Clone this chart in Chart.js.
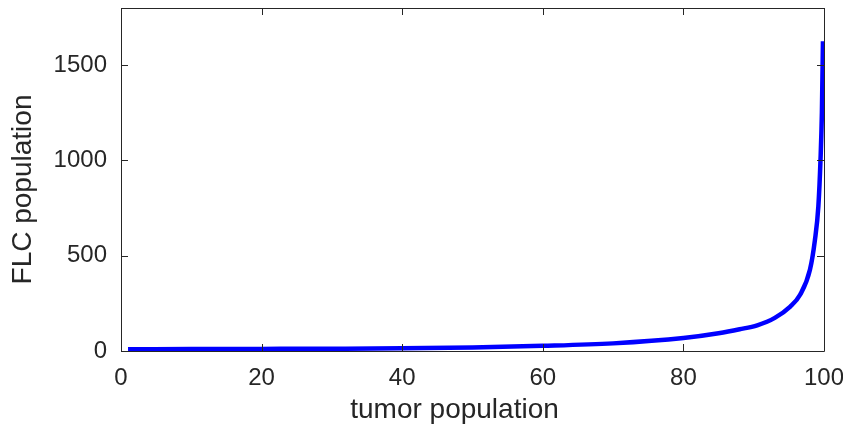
<!DOCTYPE html>
<html>
<head>
<meta charset="utf-8">
<script src="https://cdn.jsdelivr.net/npm/chart.js@4"></script>
<style>
html,body{margin:0;padding:0;background:#fff;}
#wrap{width:843px;height:430px;position:relative;}
</style>
</head>
<body>
<div id="wrap"><canvas id="c" width="843" height="430"></canvas></div>
<script>
const tumorPopulation = [1, 10, 20, 30, 40, 50, 60, 70, 80, 85, 88, 90.5, 93, 95.2, 96.6, 98.0, 98.7, 99.2, 99.5, 99.7, 99.85];
const flcPopulation   = [9, 10, 11, 12, 14, 19, 27, 40, 68, 93, 114, 135, 174, 233, 295, 426, 580, 760, 1000, 1250, 1625];
const xTickValues = [0, 20, 40, 60, 80, 100];
const yTickValues = [0, 500, 1000, 1500];
const xTitle = 'tumor population';
const yTitle = 'FLC population';

const textColor = '#262626';
const axisColor = '#262626';
const fontFamily = '"Liberation Sans", Arial, Helvetica, sans-serif';

const points = tumorPopulation.map((x, i) => ({x: x, y: flcPopulation[i]}));

const boxTicks = {
  id: 'boxTicks',
  afterDraw(chart) {
    const {ctx, chartArea: a, scales} = chart;
    const xs = scales.x, ys = scales.y;
    const len = 7;
    ctx.save();
    ctx.strokeStyle = axisColor;
    ctx.lineWidth = 1;
    ctx.beginPath();
    ctx.rect(Math.round(a.left) + 0.5, Math.round(a.top) + 0.5,
             Math.round(a.right - a.left), Math.round(a.bottom - a.top));
    ctx.stroke();
    ctx.beginPath();
    xTickValues.forEach(v => {
      const px = Math.round(xs.getPixelForValue(v)) + 0.5;
      ctx.moveTo(px, a.bottom); ctx.lineTo(px, a.bottom - len);
      ctx.moveTo(px, a.top); ctx.lineTo(px, a.top + len);
    });
    yTickValues.forEach(v => {
      const py = Math.round(ys.getPixelForValue(v)) + 0.5;
      ctx.moveTo(a.left, py); ctx.lineTo(a.left + len, py);
      ctx.moveTo(a.right, py); ctx.lineTo(a.right - len, py);
    });
    ctx.stroke();

    // axis titles (MATLAB-style placement)
    ctx.fillStyle = textColor;
    ctx.font = '28px ' + fontFamily;
    ctx.textAlign = 'center';
    ctx.textBaseline = 'middle';
    const xMid = (a.left + a.right) / 2 - 18;
    ctx.fillText(xTitle, xMid, a.bottom + 59);
    ctx.save();
    ctx.translate(23, (a.top + a.bottom) / 2 + 10);
    ctx.rotate(-Math.PI / 2);
    ctx.fillText(yTitle, 0, 0);
    ctx.restore();
    ctx.restore();
  }
};

function zeroPad(s) { s.paddingTop = 0; s.paddingBottom = 0; s.paddingLeft = 0; s.paddingRight = 0; }

new Chart(document.getElementById('c'), {
  type: 'line',
  data: {
    datasets: [{
      data: points,
      borderColor: '#0000FF',
      borderWidth: 4.5,
      pointRadius: 0,
      fill: false,
      tension: 0,
      cubicInterpolationMode: 'monotone'
    }]
  },
  options: {
    responsive: false,
    animation: false,
    devicePixelRatio: 1,
    layout: {padding: {left: 0, top: 8, right: 19, bottom: 0}},
    plugins: {legend: {display: false}, tooltip: {enabled: false}},
    scales: {
      x: {
        type: 'linear',
        min: 0, max: 100,
        afterBuildTicks: s => { s.ticks = xTickValues.map(v => ({value: v})); },
        afterFit: s => { s.height = 79; zeroPad(s); },
        grid: {display: false, drawTicks: false},
        border: {display: false},
        ticks: {color: textColor, font: {family: fontFamily, size: 24}, padding: 13, maxRotation: 0, autoSkip: false,
                callback: v => String(v)},
        title: {display: false}
      },
      y: {
        type: 'linear',
        min: 0, max: 1800,
        afterBuildTicks: s => { s.ticks = yTickValues.map(v => ({value: v})); },
        afterFit: s => { s.width = 121; zeroPad(s); },
        grid: {display: false, drawTicks: false},
        border: {display: false},
        ticks: {color: textColor, font: {family: fontFamily, size: 24}, padding: 14, autoSkip: false,
                callback: v => String(v)},
        title: {display: false}
      }
    }
  },
  plugins: [boxTicks]
});
</script>
</body>
</html>
